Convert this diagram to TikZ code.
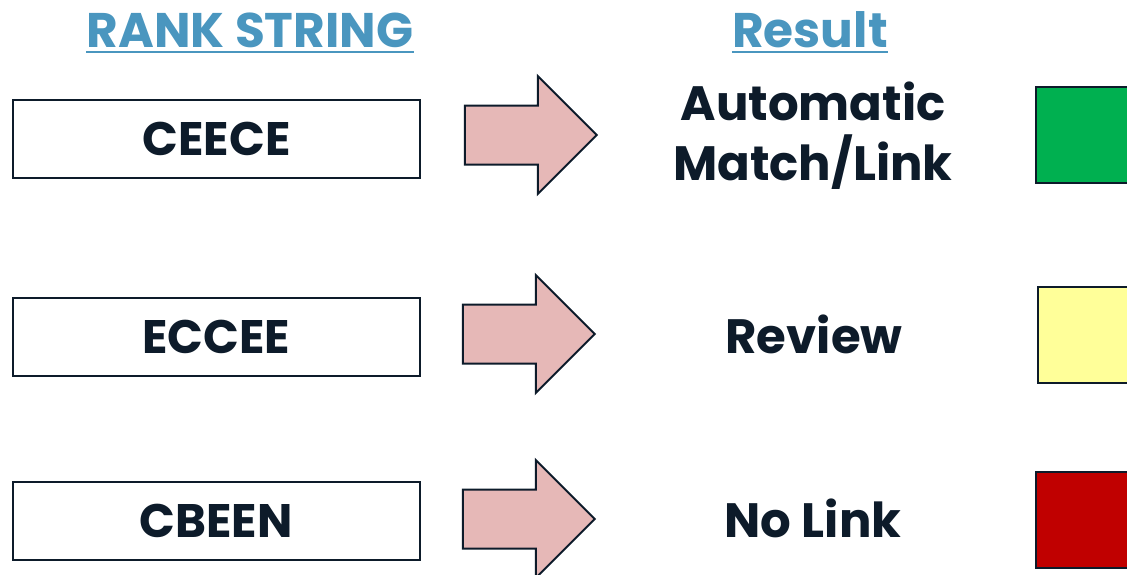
\documentclass[tikz,border=0pt]{standalone}
\usepackage{fontspec}
\setmainfont{Poppins}
\usepackage{xcolor}
\usetikzlibrary{positioning,shapes.arrows}
\definecolor{rankInk}{HTML}{0D1B2A}
\definecolor{rankBlue}{HTML}{4A96BF}
\definecolor{rankPink}{HTML}{E6B8B7}
\definecolor{rankGreen}{HTML}{00B050}
\definecolor{rankYellow}{HTML}{FFFF99}
\definecolor{rankRed}{HTML}{C00000}

\begin{document}
\begin{tikzpicture}[
    x=0.5pt, y=-0.5pt,
    head/.style={inner sep=0pt, anchor=base, text=rankBlue, font=\bfseries\fontsize{24.3}{29}\selectfont},
    under/.style={draw=rankBlue, line width=1pt},
    rankbox/.style={draw=rankInk, line width=1pt, fill=white, minimum width=203.5pt, minimum height=39pt, text=rankInk, font=\bfseries\fontsize{23.5}{28}\selectfont},
    bigarrow/.style={single arrow, draw=rankInk, line width=1pt, fill=rankPink, inner xsep=0pt, inner ysep=14.25pt, single arrow head extend=14.75pt, single arrow tip angle=90, minimum height=66pt},
    result/.style={align=center, text=rankInk, font=\bfseries\fontsize{24.1}{30}\selectfont},
    lamp/.style={draw=rankInk, line width=1pt, minimum size=48pt}
  ]
    \useasboundingbox (0,0) rectangle (1127,574);
    \clip (0,0) rectangle (1127,574);

    % headers
    \node[head] (rankhead) at (250,47) {RANK STRING\ };
    \node[head] (resulthead) at (810,47) {Result};
    \draw[under] ([yshift=-2.5pt]rankhead.base west) -- ([yshift=-2.5pt]rankhead.base east);
    \draw[under] ([yshift=-2.5pt]resulthead.base west) -- ([yshift=-2.5pt]resulthead.base east);

    % rows
    \node[rankbox] (ceece) at (216.5,139) {CEECE};
    \node[rankbox] (eccee) at (216,337) {ECCEE};
    \node[rankbox] (cbeen) at (216,521) {CBEEN};

    \node[bigarrow] (arrowa) at (516,135) {};
    \node[bigarrow] (arrowb) at (514,334) {};
    \node[bigarrow] (arrowc) at (514,519) {};

    \node[result] (auto) at (813,136) {Automatic\\Match/Link};
    \node[result] (review) at (814,334) {Review};
    \node[result] (nolink) at (813,518) {No Link};

    \node[lamp, fill=rankGreen] (green) at (1084,135) {};
    \node[lamp, fill=rankYellow] (yellow) at (1086,335) {};
    \node[lamp, fill=rankRed] (red) at (1084,520) {};
  \end{tikzpicture}
\end{document}
